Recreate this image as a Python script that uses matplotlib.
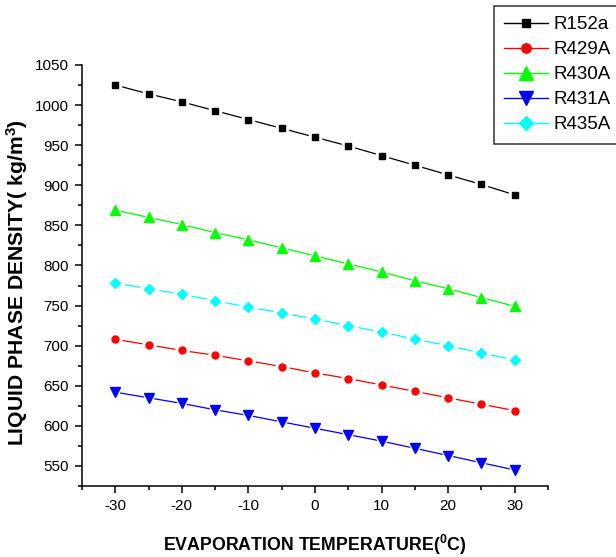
import matplotlib
matplotlib.use("Agg")
import matplotlib.pyplot as plt
from matplotlib.ticker import MultipleLocator
from matplotlib.lines import Line2D

plt.rcParams['font.family'] = ['Liberation Sans', 'DejaVu Sans']
plt.rcParams['axes.unicode_minus'] = False

temps = [-30, -25, -20, -15, -10, -5, 0, 5, 10, 15, 20, 25, 30]
r152a = [1025, 1014, 1004, 993, 982, 971, 960, 949, 937, 925, 913, 901, 888]
r429a = [708, 701, 694, 688, 681, 674, 666, 659, 651, 643, 635, 627, 619]
r430a = [869, 860, 851, 841, 832, 822, 812, 802, 792, 781, 771, 760, 749]
r431a = [642, 635, 628, 620, 613, 605, 597, 589, 581, 572, 563, 554, 545]
r435a = [778, 771, 764, 756, 748, 741, 733, 725, 717, 708, 700, 691, 682]

names = ["R152a", "R429A", "R430A", "R431A", "R435A"]
values = [r152a, r429a, r430a, r431a, r435a]
colors = ["black", "#ff0000", "#00ff00", "#0000ff", "#00ffff"]
markers = ["s", "o", "^", "v", "D"]
msizes = [4.5, 5.0, 7.5, 7.5, 5.2]

W, H = 616, 557
fig = plt.figure(figsize=(W/100, H/100), dpi=100)
L, R, T, B = 82, 548, 65, 486
ax = fig.add_axes([L/W, 1-B/H, (R-L)/W, (B-T)/H])

handles = []
for name, vals, col, mk, ms in zip(names, values, colors, markers, msizes):
    ax.plot(temps, vals, color=col, lw=0.9, zorder=2)
    ax.plot(temps, vals, ls='none', marker=mk, markersize=ms + 4.5,
            color='white', markeredgecolor='white', zorder=2.5)
    ax.plot(temps, vals, ls='none', marker=mk, markersize=ms,
            color=col, markeredgecolor=col, zorder=3, clip_on=False)
    handles.append(Line2D([], [], color=col, lw=1.0, marker=mk,
                          markersize=ms * 1.35, markeredgecolor=col, label=name))

ax.set_xlim(-35, 35)
ax.set_ylim(525, 1050)
ax.xaxis.set_major_locator(MultipleLocator(10))
ax.xaxis.set_minor_locator(MultipleLocator(5))
ax.yaxis.set_major_locator(MultipleLocator(50))
ax.yaxis.set_minor_locator(MultipleLocator(25))
ax.spines['top'].set_visible(False)
ax.spines['right'].set_visible(False)
for s in ['left', 'bottom']:
    ax.spines[s].set_linewidth(1.1)
ax.tick_params(which='both', direction='out', labelsize=11, width=1.1)
ax.tick_params(which='major', length=5, pad=4.5)
ax.tick_params(which='minor', length=3)

fig.text(315/W, 1-545/H, "EVAPORATION TEMPERATURE($\\mathregular{^0}$C)",
         fontsize=12.8, fontweight='bold', ha='center', va='center')
ylab = fig.text(17/W, 1-283/H, "LIQUID PHASE DENSITY( kg/m$\\mathregular{^3}$)",
                fontsize=12.8, fontweight='bold', ha='center', va='center',
                rotation=90)
# scale y label to target length (~327 px)
fig.canvas.draw()
bb = ylab.get_window_extent()
ylab.set_fontsize(12.8 * 327 / bb.height)

leg = fig.legend(handles=handles, loc='upper left',
                 bbox_to_anchor=(494/W, 1-6/H),
                 fontsize=13.5, frameon=True, fancybox=False, handlelength=2.35,
                 borderpad=0.55, labelspacing=0.42, handletextpad=0.25,
                 borderaxespad=0)
leg.get_frame().set_edgecolor('black')
leg.get_frame().set_linewidth(1.1)

fig.savefig("out.png", dpi=100)
